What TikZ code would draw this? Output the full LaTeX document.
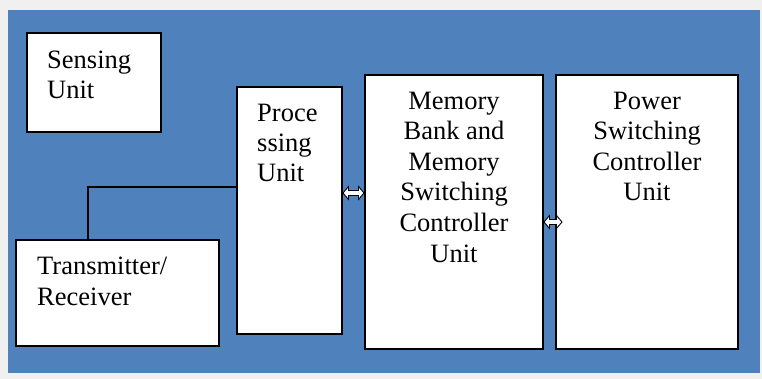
\documentclass[tikz,border=0pt]{standalone}
\usepackage{fontspec}
\setmainfont{Liberation Serif}
\usetikzlibrary{calc}
\definecolor{panelblue}{HTML}{4F81BD}
\definecolor{pagegray}{HTML}{F0F0F0}
\tikzset{
  unitbox/.style={draw=black, line width=2pt, fill=white, inner sep=0pt},
  unittext/.style={inner sep=0pt, font=\fontsize{26.5}{30.6}\selectfont},
  wire/.style={draw=black, line width=1.6pt},
  hollowarrow/.style={draw=black, line width=0.9pt, fill=white, line join=miter}
}
\begin{document}
\begin{tikzpicture}[x=1pt, y=-1pt]
  \useasboundingbox (0,0) rectangle (762,379);
  \fill[pagegray] (0,0) rectangle (762,379);
  \fill[panelblue] (8,10) rectangle (760,373);

  % unit blocks
  \node[unitbox, minimum width=134pt, minimum height=99pt]  (sense) at (94,82.5) {};
  \node[unitbox, minimum width=203pt, minimum height=106pt] (trx)   at (117.5,293) {};
  \node[unitbox, minimum width=105pt, minimum height=247pt] (proc)  at (289.5,210.5) {};
  \node[unitbox, minimum width=178pt, minimum height=274pt] (mem)   at (454,212) {};
  \node[unitbox, minimum width=182pt, minimum height=274pt] (pow)   at (647,212) {};

  % block labels (anchored on the baseline of their last line)
  \node[unittext, align=left, anchor=base west] (senseT) at ($(sense.north west)+(21,67)$) {Sensing\\Unit};
  \node[unittext, align=left, anchor=base west] (trxT) at ($(trx.north west)+(22,66.5)$) {Transmitter/\\Receiver};
  \node[unittext, align=left, anchor=base west, font=\fontsize{26.5}{30}\selectfont] (procT) at ($(proc.north west)+(21,96)$) {Proce\\ssing\\Unit};
  \node[unittext, align=center, anchor=base] (memT) at ($(mem.north)+(0,188)$)
    {Memory\\Bank and\\Memory\\Switching\\Controller\\Unit};
  \node[unittext, align=center, anchor=base] (powT) at ($(pow.north)+(0,127)$)
    {Power\\Switching\\Controller\\Unit};

  % link from transmitter to processing unit
  \coordinate (tap) at (88,187);
  \draw[wire] (trx.north -| tap) |- (proc.west |- tap);

  % bidirectional block arrows
  \coordinate (a1y) at (0,193);
  \coordinate (a1l) at (proc.east |- a1y);
  \coordinate (a1r) at (mem.west |- a1y);
  \filldraw[hollowarrow] (a1l) -- ++(5.5,-6.5) -- ++(0,4) -- ($(a1r)+(-5.5,-2.5)$) -- ++(0,-4) -- (a1r)
    -- ++(-5.5,6.5) -- ++(0,-4) -- ($(a1l)+(5.5,2.5)$) -- ++(0,4) -- cycle;

  \coordinate (a2y) at (0,222);
  \coordinate (a2l) at (mem.east |- a2y);
  \coordinate (a2r) at ($(pow.west |- a2y)+(7,0)$);
  \filldraw[hollowarrow] (a2l) -- ++(5.5,-6.5) -- ++(0,4) -- ($(a2r)+(-5.5,-2.5)$) -- ++(0,-4) -- (a2r)
    -- ++(-5.5,6.5) -- ++(0,-4) -- ($(a2l)+(5.5,2.5)$) -- ++(0,4) -- cycle;
\end{tikzpicture}
\end{document}
